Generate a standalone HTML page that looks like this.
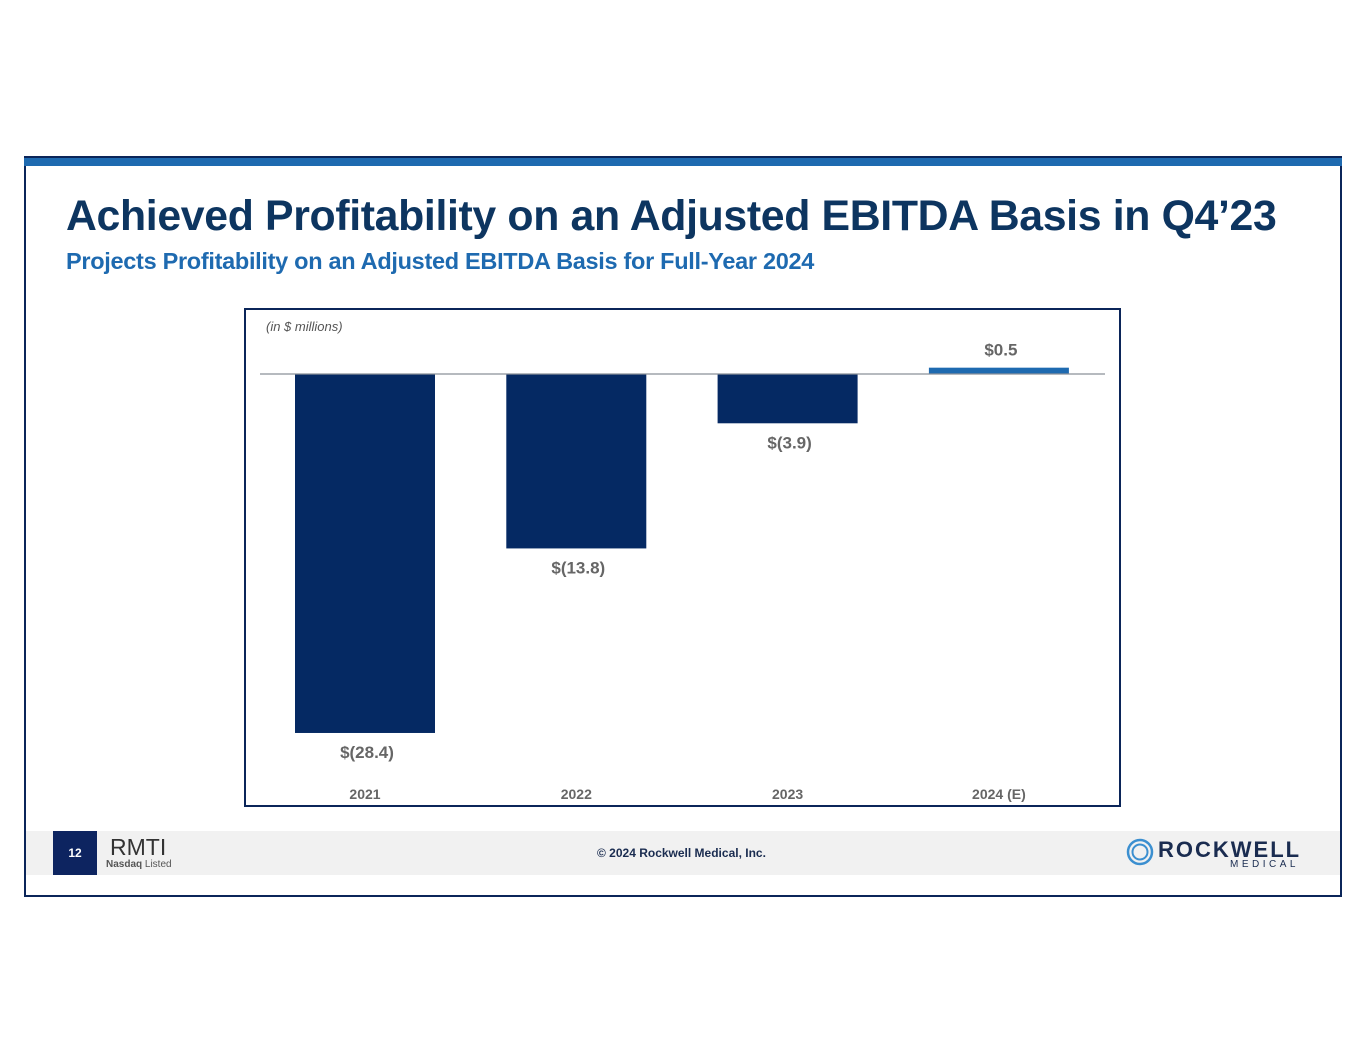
<!DOCTYPE html>
<html><head><meta charset="utf-8"><style>
body{margin:0;width:1365px;height:1055px;background:#fff;position:relative;overflow:hidden;font-family:"Liberation Sans",sans-serif;}
.abs{position:absolute;}
</style></head><body>
<div class="abs" style="left:24px;top:156px;width:1314px;height:739px;border:2px solid #0b2559;border-top:none;"></div>
<div class="abs" style="left:24px;top:156px;width:1318px;height:10px;background:#1e6ab0;border-top:2px solid #0b2559;box-sizing:border-box;"></div>
<div class="abs" style="left:66px;top:192px;font-size:42.8px;font-weight:bold;color:#0d3560;letter-spacing:-0.35px;white-space:nowrap;">Achieved Profitability on an Adjusted EBITDA Basis in Q4’23</div>
<div class="abs" style="left:66px;top:248px;font-size:23.5px;font-weight:bold;color:#1e6ab0;letter-spacing:-0.3px;white-space:nowrap;">Projects Profitability on an Adjusted EBITDA Basis for Full-Year 2024</div>
<svg class="abs" style="left:0;top:0" width="1365" height="1055" id="chart">
<rect x="245" y="309" width="875" height="497" fill="#fff" stroke="#0b2559" stroke-width="2"/>
<text x="266" y="331" font-size="13" font-style="italic" fill="#555">(in $ millions)</text>
<g id="bars"></g>
<line x1="260" y1="374" x2="1105" y2="374" stroke="#8a9099" stroke-width="1.3"/>
</svg>
<div class="abs" style="left:26px;top:831px;width:1314px;height:44px;background:#f1f1f1;"></div>
<div class="abs" style="left:53px;top:831px;width:44px;height:44px;background:#0d2460;color:#fff;font-size:12px;font-weight:bold;text-align:center;line-height:44px;">12</div>
<div class="abs" style="left:110px;top:834px;font-size:23px;color:#333;">RMTI</div>
<div class="abs" style="left:106px;top:859px;font-size:10px;color:#555;"><b>Nasdaq</b> Listed</div>
<div class="abs" style="left:597px;top:846px;font-size:12px;font-weight:bold;color:#1a2c50;">© 2024 Rockwell Medical, Inc.</div>
<svg class="abs" style="left:1126px;top:838px" width="30" height="30"><circle cx="14" cy="14" r="12" fill="none" stroke="#3b8fd0" stroke-width="2.5"/><circle cx="14" cy="14" r="7.5" fill="none" stroke="#3b8fd0" stroke-width="2"/></svg>
<div class="abs" style="left:1158px;top:837px;font-size:22px;font-weight:bold;color:#1a2c50;letter-spacing:2px;">ROCKWELL</div>
<div class="abs" style="left:1230px;top:859px;font-size:10px;color:#1a2c50;letter-spacing:3.5px;">MEDICAL</div>
<script>
const categories=["2021","2022","2023","2024 (E)"];
const values=[-28.4,-13.8,-3.9,0.5];
const valueLabels=["$(28.4)","$(13.8)","$(3.9)","$0.5"];
const NS="http://www.w3.org/2000/svg";
const g=document.getElementById('bars');
const zeroY=374, pxPerUnit=12.64;
function yScale(v){return zeroY - v*pxPerUnit;}
function xCenter(i){return 365 + i*211.3;}
const bw=140;
values.forEach((v,i)=>{
  const r=document.createElementNS(NS,'rect');
  const y0=yScale(Math.max(v,0)), y1=yScale(Math.min(v,0));
  r.setAttribute('x',xCenter(i)-bw/2);r.setAttribute('y',y0);
  r.setAttribute('width',bw);r.setAttribute('height',y1-y0);
  r.setAttribute('fill',v<0?'#052963':'#1e6ab0');
  
  
  g.appendChild(r);
  const t=document.createElementNS(NS,'text');
  t.setAttribute('x',xCenter(i)+2);
  t.setAttribute('y',v<0?y1+25:y0-12);
  t.setAttribute('text-anchor','middle');t.setAttribute('font-size','17');
  t.setAttribute('font-weight','bold');t.setAttribute('fill','#666');
  t.textContent=valueLabels[i];
  
  
  g.appendChild(t);
  const c=document.createElementNS(NS,'text');
  c.setAttribute('x',xCenter(i));c.setAttribute('y',799);
  c.setAttribute('text-anchor','middle');c.setAttribute('font-size','14');
  c.setAttribute('font-weight','bold');c.setAttribute('fill','#666');
  c.textContent=categories[i];
  
  
  g.appendChild(c);
});
</script>
</body></html>
